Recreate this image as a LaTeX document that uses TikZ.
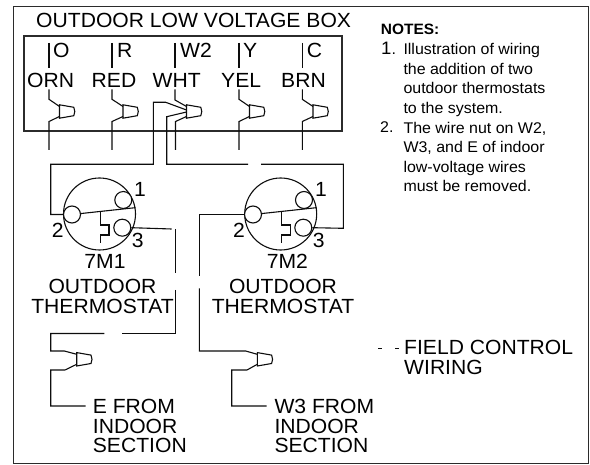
\documentclass[tikz,border=0pt]{standalone}
\usepackage{fontspec}
\setmainfont[FakeStretch=1.03]{Liberation Sans}
\usepackage{xcolor}
\definecolor{wireDark}{HTML}{0D0D0D}
\definecolor{frameDark}{HTML}{2B2B2B}
\usetikzlibrary{shapes,arrows.meta,positioning,calc}
\tikzset{
    wire/.style={
        draw=wireDark,
        line width=1.1pt
    },
    framebox/.style={
        draw=frameDark,
        line width=1.2pt
    },
    bigtext/.style={
        anchor=base west,
        inner sep=0pt,
        align=left,
        text=black,
        font=\fontsize{20.5}{19.6}\selectfont
    },
    bigcenter/.style={
        bigtext,
        anchor=base,
        align=center
    },
    notetext/.style={
        anchor=base west,
        inner sep=0pt,
        align=left,
        text=black,
        font=\fontsize{15.5}{19.55}\selectfont
    },
    thermo/.style={
        draw=wireDark,
        circle,
        inner sep=0pt,
        line width=1.1pt,
        minimum size=72pt
    },
    terminal/.style={
        draw=wireDark,
        fill=white,
        circle,
        inner sep=0pt,
        line width=1.1pt,
        minimum size=17pt
    },
    wirenut/.pic={
        \draw[wire] (0,-6.7) -- (14.3,-4.2) -- (15.3,0) -- (14.3,4.2) -- (0,6.7) -- cycle;
        \coordinate (-up) at (0,-5);
        \coordinate (-mid) at (0,-1.5);
        \coordinate (-mix) at (0,0.5);
        \coordinate (-low) at (0,5);
    }
}
\begin{document}
\begin{tikzpicture}[x=1pt,y=-1pt]
    \useasboundingbox (0,0) rectangle (590,465);

    % Frames
    \coordinate (outerA) at (13.3,6.7);
    \coordinate (outerB) at (588.3,463.5);
    \coordinate (boxA) at (24,36);
    \coordinate (boxB) at (342,131);
    \draw[framebox] (outerA) rectangle (outerB);
    \draw[framebox] (boxA) rectangle (boxB);
    \node[bigtext] (title) at (36,27.5) {OUTDOOR LOW VOLTAGE BOX};

    % Terminal letters and wire colours
    \node[bigtext] (termO) at (53,58) {O};
    \node[bigtext] (termR) at (117,58) {R};
    \node[bigtext] (termW) at (180,58) {W2};
    \node[bigtext] (termY) at (243,58) {Y};
    \node[bigtext] (termC) at (306.7,58) {C};
    \node[bigtext] (colO) at (27,87.3) {ORN};
    \node[bigtext] (colR) at (91.5,87.3) {RED};
    \node[bigtext] (colW) at (152.5,87.3) {WHT};
    \node[bigtext] (colY) at (221,87.3) {YEL};
    \node[bigtext] (colC) at (281,87.3) {BRN};

    % Wire nuts
    \pic (nutO) at (59.5,111.5) {wirenut};
    \pic (nutR) at (123,111.5) {wirenut};
    \pic (nutW) at (186.5,111.5) {wirenut};
    \pic (nutY) at (249.5,111.5) {wirenut};
    \pic (nutC) at (313,111.5) {wirenut};
    \pic (nutE) at (76.7,359.3) {wirenut};
    \pic (nutT) at (257.3,359.3) {wirenut};

    % Thermostat 7M1
    \node[thermo] (thA) at (99.5,214) {};
    \node[terminal] (thA1) at (123.3,200) {};
    \node[terminal] (thA2) at (72,214.5) {};
    \node[terminal] (thA3) at (122.3,227.7) {};
    \node[bigtext] (numA1) at (134,196.7) {1};
    \node[bigtext] (numA2) at (51.7,237.7) {2};
    \node[bigtext] (numA3) at (131.7,247.3) {3};
    \node[bigcenter] (nameA) at (105,268.7) {7M1};
    \node[bigcenter] (kindA) at (102.5,313.3) {OUTDOOR\\THERMOSTAT};

    % Thermostat 7M2
    \node[thermo] (thB) at (280.7,214) {};
    \node[terminal] (thB1) at (304,200) {};
    \node[terminal] (thB2) at (253,214.5) {};
    \node[terminal] (thB3) at (303.3,227.7) {};
    \node[bigtext] (numB1) at (315,196.7) {1};
    \node[bigtext] (numB2) at (233,237.7) {2};
    \node[bigtext] (numB3) at (312.7,247.3) {3};
    \node[bigcenter] (nameB) at (287.3,268.7) {7M2};
    \node[bigcenter] (kindB) at (283,313.3) {OUTDOOR\\THERMOSTAT};

    % Arms and bimetal strips
    \draw[wire] (thA2) -- (thA.10);
    \draw[wire] (thB2) -- (thB.10);
    \draw[wire] ([shift={(1.2,-2.3)}]thA.center) -- ++(0,13.3) -- ++(8.3,0) -- ++(0,10) -- ++(-8.3,0) -- ++(0,8);
    \draw[wire] ([shift={(1.2,-2.3)}]thB.center) -- ++(0,13.3) -- ++(8.3,0) -- ++(0,10) -- ++(-8.3,0) -- ++(0,8);

    % Leads from the terminals into the box
    \draw[wire] (49,43) coordinate (leadO) -- (49,68);
    \draw[wire] (49,89.3) -- (49,99.3) -- (nutO-up);
    \draw[wire] (nutO-low) -- ++(-10.5,5) -- ++(0,28.3);
    \draw[wire] (112,43) coordinate (leadR) -- (112,68);
    \draw[wire] (112,89.3) -- (112,99.3) -- (nutR-up);
    \draw[wire] (nutR-low) -- ++(-11,5) -- ++(0,28.3);
    \draw[wire] (175,43) coordinate (leadW) -- (175,68);
    \draw[wire] (175,89.3) -- (175,100) -- (nutW-up);
    \draw[wire] (nutW-low) -- ++(-11,5) -- ++(0,28.3);
    \draw[wire] (239,43) coordinate (leadY) -- (239,68);
    \draw[wire] (239,89.3) -- (239,99.3) -- (nutY-up);
    \draw[wire] (nutY-low) -- ++(-10.5,5) -- ++(0,28.3);
    \draw[wire] (302.3,43) coordinate (leadC) -- (302.3,68);
    \draw[wire] (302.3,89.3) -- (302.3,99.3) -- (nutC-up);
    \draw[wire] (nutC-low) -- ++(-10.7,5) -- ++(0,28.3);

    % Field wiring between box and thermostats
    \coordinate (cornerA) at (50.7,164.3);
    \coordinate (cornerB) at (153.3,102.3);
    \draw[wire] (thA2.west) -| (cornerA) -| (cornerB) -- ++(12.4,0) -- (nutW-mid);
    \coordinate (cornerC) at (166.7,116.7);
    \coordinate (gapA) at (248,164.3);
    \coordinate (gapB) at (261,164.3);
    \coordinate (cornerD) at (343.3,228.3);
    \draw[wire] (nutW-mix) -- (cornerC) |- (gapA);
    \draw[wire] (gapB) -| (cornerD) -- (thB3.east);

    % Field wiring to E from indoor section
    \coordinate (gapC) at (171.7,229);
    \coordinate (gapD) at (175.7,229.3);
    \coordinate (gapE) at (175.7,273.3);
    \coordinate (gapF) at (175.7,290);
    \coordinate (gapG) at (122.3,333.5);
    \coordinate (gapH) at (104.3,333.5);
    \coordinate (cornerE) at (50.7,351);
    \draw[wire] (thA3.east) -- (gapC);
    \draw[wire] (gapD) -- (gapE);
    \draw[wire] (gapF) |- (gapG);
    \draw[wire] (gapH) -| (cornerE) -- ++(13.6,0) -- (nutE-up);
    \coordinate (endE) at (85.7,406);
    \draw[wire] (nutE-low) -- ++(-11.7,5.7) -- ++(-14.3,0) |- (endE);

    % Field wiring to W3 from indoor section
    \coordinate (cornerF) at (199.3,276);
    \coordinate (cornerG) at (199.3,288.3);
    \coordinate (cornerH) at (245.7,351);
    \draw[wire] (thB2.west) -| (cornerF);
    \draw[wire] (cornerG) |- (cornerH) -- (nutT-up);
    \coordinate (endT) at (266.7,406);
    \draw[wire] (nutT-low) -- ++(-10.3,5.7) -- ++(-15.3,0) |- (endT);

    % Indoor section labels
    \node[bigtext] (indoorE) at (92.7,452.7) {E FROM\\INDOOR\\SECTION};
    \node[bigtext] (indoorT) at (274.3,452.7) {W3 FROM\\INDOOR\\SECTION};

    % Notes
    \node[notetext,font=\fontsize{15}{19.55}\selectfont\bfseries] (notes) at (380.7,35) {NOTES:};
    \node[notetext] (noteNumA) at (381,54.5) {{\fontsize{18}{18}\selectfont 1}.};
    \node[notetext] (noteA) at (403.3,113.3) {Illustration of wiring\\the addition of two\\outdoor thermostats\\to the system.};
    \node[notetext] (noteNumB) at (380,133) {2.};
    \node[notetext] (noteB) at (403.3,192) {The wire nut on W2,\\W3, and E of indoor\\low-voltage wires\\must be removed.};

    % Legend
    \coordinate (legendA) at (378,348.3);
    \coordinate (legendB) at (399.3,348.3);
    \draw[wire,line width=0.7pt,dash pattern=on 3.7pt off 13.6pt on 4pt off 5pt] (legendA) -- (legendB);
    \node[bigtext] (legend) at (404,374.3) {FIELD CONTROL\\WIRING};
\end{tikzpicture}
\end{document}
